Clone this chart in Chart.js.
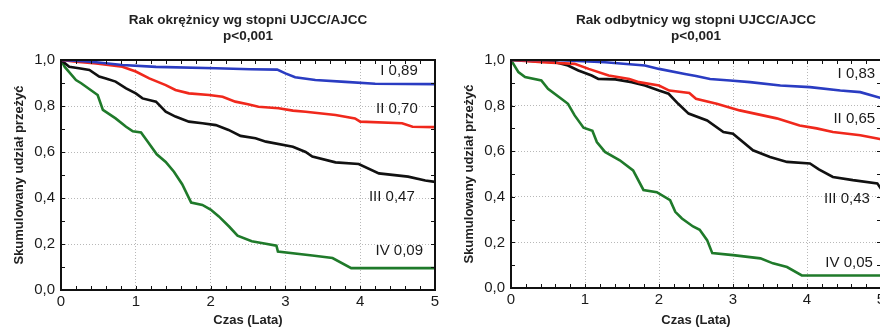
<!DOCTYPE html>
<html>
<head>
<meta charset="utf-8">
<script src="https://cdn.jsdelivr.net/npm/chart.js@4/dist/chart.umd.min.js"></script>
<style>
  html, body { margin: 0; padding: 0; background: #fff; width: 880px; height: 330px; overflow: hidden; }
  canvas { position: absolute; top: 0; }
  #colon { left: 0; }
  #rectum { left: 440px; }
</style>
</head>
<body>
<canvas id="colon" width="440" height="330"></canvas>
<canvas id="rectum" width="450" height="330"></canvas>
<script>
// Kaplan-Meier curves: [time in years, survival]
const colonI = [[0,1],[0.3,0.995],[0.47,0.99],[0.82,0.978],[1.27,0.97],[2.07,0.964],[2.53,0.96],[2.89,0.958],[3.0,0.942],[3.13,0.925],[3.4,0.913],[3.8,0.905],[4.2,0.897],[5,0.895]];
const colonII = [[0,1],[0.2,0.993],[0.47,0.985],[0.82,0.971],[1.0,0.95],[1.18,0.92],[1.4,0.891],[1.53,0.87],[1.71,0.855],[1.98,0.848],[2.16,0.84],[2.33,0.819],[2.5,0.808],[2.64,0.797],[2.91,0.79],[3.1,0.78],[3.27,0.775],[3.67,0.761],[3.93,0.746],[4.0,0.732],[4.56,0.725],[4.7,0.71],[5,0.708]];
const colonIII = [[0,1],[0.11,0.971],[0.24,0.964],[0.38,0.957],[0.51,0.928],[0.6,0.92],[0.73,0.906],[0.87,0.877],[1.0,0.855],[1.09,0.833],[1.27,0.819],[1.4,0.775],[1.53,0.754],[1.71,0.732],[1.89,0.725],[2.07,0.717],[2.24,0.696],[2.4,0.67],[2.6,0.66],[2.74,0.645],[3.1,0.623],[3.27,0.6],[3.36,0.58],[3.67,0.555],[3.98,0.548],[4.25,0.507],[4.64,0.493],[4.87,0.476],[5,0.47]];
const colonIV = [[0,1],[0.05,0.97],[0.2,0.913],[0.27,0.899],[0.49,0.848],[0.56,0.783],[0.73,0.746],[0.87,0.71],[0.96,0.69],[1.07,0.685],[1.16,0.645],[1.28,0.59],[1.4,0.557],[1.51,0.514],[1.62,0.46],[1.74,0.38],[1.89,0.37],[2.0,0.35],[2.11,0.32],[2.25,0.275],[2.36,0.236],[2.55,0.212],[2.7,0.203],[2.88,0.193],[2.9,0.167],[3.36,0.15],[3.63,0.139],[3.88,0.095],[5,0.095]];

const rectumI = [[0,1],[0.6,1.0],[1.27,0.99],[1.81,0.976],[2.0,0.961],[2.35,0.939],[2.5,0.93],[2.69,0.917],[2.96,0.91],[3.23,0.903],[3.64,0.888],[4.04,0.881],[4.45,0.866],[4.72,0.859],[5,0.833]];
const rectumII = [[0,1],[0.42,0.99],[0.86,0.983],[1.05,0.961],[1.32,0.932],[1.6,0.917],[1.73,0.903],[2.0,0.888],[2.14,0.866],[2.41,0.855],[2.5,0.83],[2.78,0.808],[3.09,0.779],[3.59,0.744],[3.9,0.713],[4.13,0.70],[4.35,0.684],[4.72,0.67],[4.95,0.656],[5,0.652]];
const rectumIII = [[0,1],[0.6,0.99],[0.77,0.976],[0.91,0.954],[1.09,0.932],[1.18,0.917],[1.41,0.915],[1.63,0.903],[1.81,0.888],[2.0,0.866],[2.13,0.852],[2.26,0.808],[2.4,0.765],[2.65,0.735],[2.87,0.684],[3.0,0.677],[3.27,0.604],[3.5,0.575],[3.73,0.553],[4.04,0.546],[4.16,0.52],[4.35,0.487],[4.62,0.473],[4.95,0.459],[5,0.435]];
const rectumIV = [[0,1],[0.1,0.947],[0.19,0.925],[0.41,0.91],[0.5,0.874],[0.68,0.83],[0.77,0.808],[0.86,0.757],[0.98,0.703],[1.1,0.69],[1.16,0.64],[1.27,0.597],[1.47,0.56],[1.65,0.516],[1.79,0.43],[1.97,0.42],[2.15,0.385],[2.22,0.334],[2.31,0.305],[2.46,0.27],[2.55,0.255],[2.65,0.21],[2.72,0.153],[3.0,0.144],[3.37,0.13],[3.54,0.108],[3.73,0.092],[3.93,0.055],[5,0.055]];

const stageNames = ['I', 'II', 'III', 'IV'];
const stageColors = ['#2a3cc2', '#f0281c', '#111111', '#1f7a2a'];
const colonEnd = ['I 0,89', 'II 0,70', 'III 0,47', 'IV 0,09'];
const rectumEnd = ['I 0,83', 'II 0,65', 'III 0,43', 'IV 0,05'];
const pValue = 'p<0,001';
const yTitle = 'Skumulowany udział przeżyć';
const xTitle = 'Czas (Lata)';

const NARROW = "'Liberation Sans Narrow', 'Arial Narrow', 'Liberation Sans', Arial, sans-serif";
const SANS = "'Liberation Sans', Arial, sans-serif";

// frame on all four sides, small inward ticks, end-of-curve labels
const framePlugin = {
  id: 'kmFrame',
  afterDatasetsDraw(chart, args, opts) {
    const { ctx, chartArea: a, scales: { x, y } } = chart;
    ctx.save();
    ctx.strokeStyle = '#111';
    ctx.lineWidth = 1;
    ctx.beginPath();
    for (let v = 0; v <= 5.001; v += 0.2) {
      const px = Math.round(x.getPixelForValue(v)) + 0.5;
      ctx.moveTo(px, a.bottom); ctx.lineTo(px, a.bottom - 4);
      ctx.moveTo(px, a.top); ctx.lineTo(px, a.top + 4);
    }
    for (let v = 0; v <= 1.001; v += 0.1) {
      const py = Math.round(y.getPixelForValue(v)) + 0.5;
      ctx.moveTo(a.left, py); ctx.lineTo(a.left + 4, py);
      ctx.moveTo(a.right, py); ctx.lineTo(a.right - 4, py);
    }
    ctx.stroke();
    ctx.lineWidth = 2;
    ctx.strokeRect(a.left, a.top, a.right - a.left, a.bottom - a.top);

    ctx.fillStyle = '#1a1a1a';
    ctx.font = '15px ' + SANS;
    ctx.textAlign = 'right';
    ctx.textBaseline = 'alphabetic';
    opts.texts.forEach((t, i) => {
      const [tx, ty] = opts.anchors[i];
      ctx.fillText(t, x.getPixelForValue(tx), y.getPixelForValue(ty));
    });
    ctx.restore();
  }
};

function makeChart(id, title, series, cfg) {
  const zeroPad = s => { s.paddingLeft = s.paddingRight = s.paddingTop = s.paddingBottom = 0; };
  return new Chart(document.getElementById(id), {
    type: 'line',
    data: {
      datasets: series.map((pts, i) => ({
        label: stageNames[i],
        data: pts.map(p => ({ x: p[0], y: p[1] })),
        borderColor: stageColors[i],
        borderWidth: 2.6,
        pointRadius: 0,
        tension: 0,
        fill: false
      }))
    },
    options: {
      responsive: false,
      animation: false,
      devicePixelRatio: 1,
      layout: { padding: { top: 12, left: 0, right: cfg.padRight, bottom: 0 } },
      plugins: {
        legend: { display: false },
        tooltip: { enabled: false },
        title: {
          display: true,
          fullSize: false,
          text: [title, pValue],
          color: '#222',
          font: { family: NARROW, size: 13.5, weight: 'bold', lineHeight: 1.2 },
          padding: { top: 0, bottom: 15.6 }
        },
        kmFrame: { texts: cfg.texts, anchors: cfg.anchors }
      },
      scales: {
        x: {
          type: 'linear', min: 0, max: 5,
          ticks: { stepSize: 1, color: '#1a1a1a', font: { family: SANS, size: 15 }, padding: 3, maxRotation: 0 },
          grid: { color: '#b8b8b8', lineWidth: 1, drawTicks: false },
          border: { color: '#111', width: 2, dash: [1, 2] },
          title: { display: true, text: xTitle, color: '#222', font: { family: NARROW, size: 13, weight: 'bold' }, padding: { top: 0, bottom: 2.2 } },
          afterFit: s => { s.height = cfg.xHeight; zeroPad(s); }
        },
        y: {
          min: 0, max: 1,
          ticks: { stepSize: 0.2, color: '#1a1a1a', font: { family: SANS, size: 15 }, padding: 6,
                   callback: v => v.toFixed(1).replace('.', ',') },
          grid: { color: '#b8b8b8', lineWidth: 1, drawTicks: false },
          border: { color: '#111', width: 2, dash: [1, 2] },
          title: { display: true, text: yTitle, color: '#222', font: { family: NARROW, size: 13, weight: 'bold' }, padding: { top: cfg.yTitlePad, bottom: 0 } },
          afterFit: s => { s.width = cfg.yWidth; zeroPad(s); }
        }
      }
    },
    plugins: [framePlugin]
  });
}

makeChart('colon', 'Rak okrężnicy wg stopni UJCC/AJCC', [colonI, colonII, colonIII, colonIV], {
  padRight: 5, yWidth: 61, xHeight: 40, yTitlePad: 11.2,
  texts: colonEnd,
  anchors: [[4.77, 0.935], [4.77, 0.77], [4.73, 0.387], [4.84, 0.152]]
});

makeChart('rectum', 'Rak odbytnicy wg stopni UJCC/AJCC', [rectumI, rectumII, rectumIII, rectumIV], {
  padRight: 9, yWidth: 71, xHeight: 42, yTitlePad: 21.2,
  texts: rectumEnd,
  anchors: [[4.92, 0.919], [4.92, 0.722], [4.85, 0.372], [4.89, 0.092]]
});
</script>
</body>
</html>
